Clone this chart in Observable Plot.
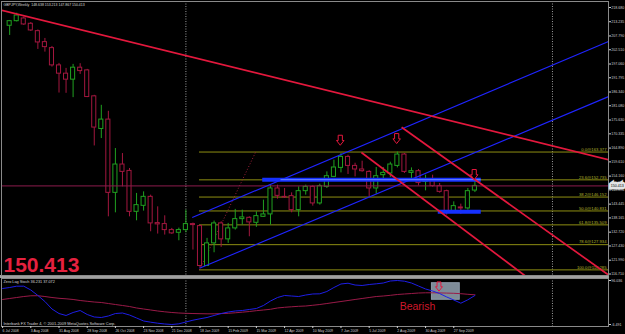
<!DOCTYPE html>
<html><head><meta charset="utf-8">
<script src="https://cdn.jsdelivr.net/npm/d3@7"></script>
<script src="https://cdn.jsdelivr.net/npm/@observablehq/plot@0.6"></script>
<style>
html,body{margin:0;padding:0;background:#000;}
#chart{position:relative;width:625px;height:334px;background:#000;overflow:hidden;}
#main{position:absolute;left:0;top:0;width:625px;z-index:3;}
#band{position:absolute;left:0;top:275px;width:609px;height:3px;background:#a0a0a0;z-index:2;}
#lower{position:absolute;left:0;top:278px;width:625px;z-index:1;}
</style></head><body><div id="chart"><div id="main"></div><div id="band"></div><div id="lower"></div></div>
<script>
// ---------- data ----------
const symbolName = "GBPJPY", period = "Weekly";
const dateLabels = ["6 Jul 2008","3 Aug 2008","31 Aug 2008","28 Sep 2008","26 Oct 2008","23 Nov 2008","21 Dec 2008","18 Jan 2009","15 Feb 2009","15 Mar 2009","12 Apr 2009","10 May 2009","7 Jun 2009","5 Jul 2009","2 Aug 2009","30 Aug 2009","27 Sep 2009"];
const labelStepWeeks = 4;
const firstCandleWeek = 1; // weeks counted from 6 Jul 2008
const opens = [211.69,213.45,214.48,212.45,209.63,205.43,203.14,196.53,193.36,191.07,195.65,194.62,184.69,172.20,175.79,147.76,158.60,156.16,140.50,142.79,146.23,136.19,135.81,133.51,132.48,133.51,135.81,135.04,119.77,128.43,136.07,129.96,134.16,137.71,138.21,136.30,138.59,139.51,149.44,146.23,146.50,141.15,148.41,150.05,143.71,150.05,153.87,157.31,161.51,158.07,156.70,155.78,149.44,154.52,155.17,158.07,162.42,155.40,156.05,151.96,152.61,150.32,148.41,140.50,142.18,141.80,148.638];
const highs = [213.72,216.50,214.98,212.95,210.09,206.84,203.78,197.29,195.38,196.91,197.18,195.00,185.07,181.25,178.96,164.72,162.80,157.08,147.53,148.14,146.88,142.41,138.97,134.16,134.28,141.15,136.19,135.42,130.34,136.95,136.68,136.07,141.42,141.15,138.59,140.50,144.97,150.70,150.70,149.44,147.76,150.05,150.70,150.51,151.08,155.78,160.25,162.80,162.16,159.10,159.87,156.24,157.46,157.46,159.48,163.38,162.80,157.31,156.70,154.52,154.52,151.35,148.79,144.32,143.44,149.44,153.213];
const lows = [207.98,213.14,211.83,209.51,202.64,201.61,195.88,185.95,185.84,184.19,193.09,184.19,165.71,168.54,138.59,140.12,150.05,138.59,137.07,140.77,132.86,131.99,131.61,131.87,129.43,132.48,125.88,118.88,119.58,124.84,126.90,128.43,133.51,135.42,130.96,134.55,138.48,135.42,145.35,145.62,140.12,138.59,146.88,142.68,143.06,149.44,153.56,155.40,154.79,153.87,155.66,146.23,147.26,152.23,153.64,157.31,155.17,152.88,150.43,148.52,149.94,147.64,139.24,139.89,139.51,141.15,147.867];
const closes = [213.45,215.62,212.19,209.90,205.31,203.52,196.53,193.36,191.07,195.65,194.35,184.42,172.74,175.79,147.76,158.60,155.78,140.50,143.06,146.23,136.07,135.69,133.51,132.25,133.51,135.81,135.42,119.77,128.43,136.07,129.96,134.16,137.71,138.36,136.45,138.86,139.51,149.44,146.61,146.00,141.15,148.41,150.05,143.71,150.32,154.13,157.46,161.51,158.07,156.70,156.05,149.44,154.13,155.40,158.60,162.42,155.78,156.05,151.58,152.61,150.32,148.14,140.50,142.68,141.80,148.41,150.413];
const priceTicks = [218.680,213.235,207.790,202.510,197.060,191.795,186.340,181.080,175.630,170.335,164.890,159.610,154.160,148.890,143.445,138.165,132.720,127.430,121.990,116.710];
const fibLevels = [0.0,23.6,38.2,50.0,61.8,78.6,100.0];
const fibPrices = [163.377,152.735,146.152,140.831,135.509,127.934,118.285];
const fibStartWeek = 27.93, fibTopWeek = 35.9;
const channelStart = [[26.9,138.37],[27.93,118.89]];
const channelEnd = [205.69,184.58];
const redLineStart = [[-0.3,217.74],[50.9,163.19],[56.6,172.85]];
const redLineEnd = [[85.95,160.44],[74.2,115.87],[85.95,116.33]];
const supportWeeks = [[36.9,67.9],[61.8,67.9]];
const supportPrices = [152.80,140.50];
const arrowWeeks = [47.9,55.9,66.9];
const arrowPrices = [167.89,168.53,154.78];
const yearStartWeeks = [26,78];
const stochMain = [77.4,79.7,82.8,82.8,73.9,61.1,47.1,29.6,19.1,14.5,21.5,26.1,16.8,11.0,9.8,13.3,19.1,20.3,15.6,8.7,1.7,-1.1,-3.5,-5.3,-6.5,-4.9,-0.7,3.5,6.8,9.8,14.5,19.1,22.6,25.0,26.1,28.5,30.8,37.8,48.2,56.4,61.1,59.9,58.7,62.2,64.6,65.0,70.4,79.7,87.9,89.7,85.5,84.4,86.7,88.3,90.2,94.9,96.0,94.4,90.2,83.2,76.2,71.6,65.7,57.6,50.6,43.1,51.1,61.1];
const stochSignal = [51.8,54.1,56.4,58.7,60.4,60.6,58.7,56.4,54.6,53.4,51.8,49.4,47.6,45.9,44.8,42.4,40.1,37.8,35.4,32.0,29.6,27.3,25.0,23.1,21.5,20.3,19.6,19.1,18.7,18.4,18.4,18.9,19.6,20.8,22.2,23.8,25.7,27.3,29.0,32.0,33.6,34.8,35.9,36.6,38.3,40.1,42.4,44.8,47.1,49.4,51.8,54.1,56.4,58.7,59.9,61.5,63.4,64.6,65.7,66.9,67.4,67.4,67.1,66.7,66.2,65.3,63.9,62.7];
const stochLabel = "Zero Lag Stoch 36.231 37.072";
const stochTicks = [96.036,-6.491];
const signalBox = {w1:60.9, w2:64.85, v1:51.1, v2:89.7};
const signalArrow = {w:61.9, v:82.05};
const signalText = {w:58.85, v:35.45, text:"Bearish"};
const copyright = "Interbank FX Trader 4, © 2001-2009 MetaQuotes Software Corp.";

// ---------- derived tables ----------
const xDomain = [-0.3, 85.95];
const candles = opens.map((o,k)=>({w:firstCandleWeek+k, open:o, high:highs[k], low:lows[k], close:closes[k]}));
const bulls = candles.filter(d=>d.close>=d.open), bears = candles.filter(d=>d.close<d.open);
const fibs = fibLevels.map((l,k)=>({level:l, price:fibPrices[k]}));
const channels = channelStart.map((s,k)=>({w1:s[0],p1:s[1],w2:xDomain[1],p2:channelEnd[k]}));
const redLines = redLineStart.map((s,k)=>({w1:s[0],p1:s[1],w2:redLineEnd[k][0],p2:redLineEnd[k][1]}));
const supports = supportWeeks.map((s,k)=>({w1:s[0],w2:s[1],p:supportPrices[k]}));
const arrows = arrowWeeks.map((w,k)=>({w,p:arrowPrices[k]}));
const last = candles[candles.length-1];
const title = `${symbolName},${period}  ${last.open.toFixed(3)} ${last.high.toFixed(3)} ${last.low.toFixed(3)} ${last.close.toFixed(3)}`;
const stoch = stochMain.map((v,k)=>({w:k, main:v, signal:stochSignal[k]}));
const dateTicks = dateLabels.map((_,k)=>k*labelStepWeeks);

const downArrow = {draw(ctx, size){
  const r = Math.sqrt(size/Math.PI);
  const w=0.42*r, hw=0.75*r, h=r;
  ctx.moveTo(-w,-h); ctx.lineTo(w,-h); ctx.lineTo(w,0.05*h); ctx.lineTo(hw,0.05*h);
  ctx.lineTo(0,h); ctx.lineTo(-hw,0.05*h); ctx.lineTo(-w,0.05*h); ctx.closePath();
}};

const bull="#20a020", bear="#a3173f", red="#e3183d", blue="#1f24ff", olive="#8e8e12", grayTxt="#cfcfcf";
const font = "'Liberation Sans', Arial, sans-serif";
const axisFont = 3.6;

const main = Plot.plot({
  width:625, height:275, marginTop:1, marginLeft:1, marginRight:17, marginBottom:0,
  style:{background:"transparent", fontFamily:font, color:grayTxt, overflow:"visible", maxWidth:"none"},
  x:{domain:xDomain, range:[0,608], axis:null},
  y:{domain:[116.71,218.68], range:[273.5,7], axis:null},
  marks:[
    Plot.ruleX(yearStartWeeks, {stroke:"#9a9a9a", strokeDasharray:"1,1.5"}),
    Plot.ruleY(fibs, {y:"price", x1:fibStartWeek, x2:xDomain[1], stroke:olive}),
    Plot.text(fibs, {y:"price", frameAnchor:"right", textAnchor:"end", dx:-2, dy:-2.6, text:d=>`${d.level.toFixed(1)}@${d.price.toFixed(3)}`, fill:"#b4b42c", fontSize:4.2}),
    Plot.link([{w1:fibStartWeek,p1:fibPrices[6],w2:fibTopWeek,p2:fibPrices[0]}], {x1:"w1",y1:"p1",x2:"w2",y2:"p2", stroke:"#a0203a", strokeDasharray:"1,2", strokeWidth:1}),
    Plot.ruleX(bulls, {x:"w", y1:"low", y2:"high", stroke:bull}),
    Plot.ruleX(bears, {x:"w", y1:"low", y2:"high", stroke:bear}),
    Plot.rect(bulls, {x1:d=>d.w-0.29, x2:d=>d.w+0.29, y1:"open", y2:"close", fill:"#000", stroke:bull}),
    Plot.rect(bears, {x1:d=>d.w-0.29, x2:d=>d.w+0.29, y1:"open", y2:"close", fill:"#000", stroke:bear}),
    Plot.ruleY([last.close], {stroke:"#8c1c4c"}),
    Plot.link(channels, {x1:"w1",y1:"p1",x2:"w2",y2:"p2", stroke:blue, strokeWidth:1.1}),
    Plot.ruleY(supports, {y:"p", x1:"w1", x2:"w2", stroke:"#1530ff", strokeWidth:4}),
    Plot.ruleY(supports.slice(0,1), {y:"p", x1:d=>d.w1+2.6, x2:"w2", stroke:"#6d88ff", strokeWidth:1}),
    Plot.link(redLines, {x1:"w1",y1:"p1",x2:"w2",y2:"p2", stroke:red, strokeWidth:1.7, clip:true}),
    Plot.dot(arrows, {x:"w", y:"p", symbol:downArrow, r:5, fill:"#000", stroke:red, strokeWidth:1}),
    Plot.text([title], {frameAnchor:"top-left", dx:2, dy:2, textAnchor:"start", lineAnchor:"top", fill:"#d8d8d8", fontSize:3.5}),
    Plot.text([last.close], {frameAnchor:"bottom-left", dx:2, dy:-4, textAnchor:"start", lineAnchor:"bottom", text:d=>d.toFixed(3), fill:"#e5213f", fontSize:21, fontWeight:"bold"}),
    Plot.frame({stroke:"#8a8a8a"}),
    Plot.axisY(priceTicks, {anchor:"right", tickSize:2, tickPadding:0.8, fontSize:axisFont, tickFormat:d=>d.toFixed(3), color:grayTxt}),
    Plot.text([last.close], {y:d=>d, frameAnchor:"right", textAnchor:"start", dx:2.3, text:d=>d.toFixed(3), fill:"#000", stroke:"#e4e4e4", strokeWidth:4.5, strokeLinejoin:"miter", paintOrder:"stroke", fontSize:axisFont})
  ]
});
document.getElementById("main").appendChild(main);

const lower = Plot.plot({
  width:625, height:56, marginTop:0, marginLeft:1, marginRight:17, marginBottom:8,
  style:{background:"transparent", fontFamily:font, color:grayTxt, overflow:"visible", maxWidth:"none"},
  x:{domain:xDomain, range:[0,608], axis:null},
  y:{domain:[-6.491,96.036], range:[46,2], axis:null},
  marks:[
    Plot.ruleX(yearStartWeeks, {stroke:"#9a9a9a", strokeDasharray:"1,1.5"}),
    Plot.rect([signalBox], {x1:"w1", x2:"w2", y1:"v1", y2:"v2", fill:"#7e8b98", stroke:"#8f9cab"}),
    Plot.line(stoch, {x:"w", y:"signal", stroke:"#9a1a48", strokeWidth:1}),
    Plot.line(stoch, {x:"w", y:"main", stroke:"#1e1ee6", strokeWidth:1}),
    Plot.dot([signalArrow], {x:"w", y:"v", symbol:downArrow, r:4.6, fill:"none", stroke:red, strokeWidth:1}),
    Plot.text([signalText], {x:"w", y:"v", text:"text", fill:"#d0182a", fontSize:10.5}),
    Plot.text([stochLabel], {frameAnchor:"top-left", dx:2, dy:2, textAnchor:"start", lineAnchor:"top", fill:"#d8d8d8", fontSize:3.8}),
    Plot.text([copyright], {frameAnchor:"bottom-left", dx:2, dy:-2, textAnchor:"start", lineAnchor:"bottom", fill:"#d8d8d8", fontSize:3.9}),
    Plot.frame({stroke:"#8a8a8a"}),
    Plot.axisY(stochTicks, {anchor:"right", tickSize:2, tickPadding:0.8, fontSize:axisFont, tickFormat:d=>d.toFixed(3), color:grayTxt}),
    Plot.axisX(dateTicks, {anchor:"bottom", tickSize:2, tickPadding:0.5, textAnchor:"start", fontSize:3.5, tickFormat:(d)=>dateLabels[d/labelStepWeeks], color:grayTxt})
  ]
});
document.getElementById("lower").appendChild(lower);
</script></body></html>
